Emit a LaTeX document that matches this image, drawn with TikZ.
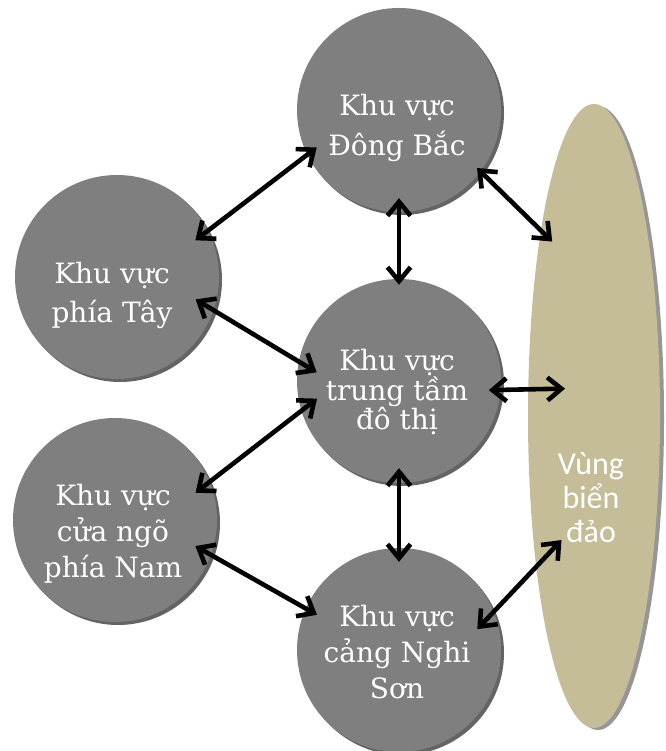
\documentclass[tikz,border=0pt]{standalone}
\usepackage{fontspec}
\setmainfont{DejaVu Serif}
\newfontfamily\seafont{Carlito}
\usetikzlibrary{arrows.meta,shapes.geometric,shadows}

\definecolor{zonegray}{RGB}{127,127,127}
\definecolor{zoneshade}{RGB}{100,100,100}
\definecolor{seatan}{RGB}{196,189,151}
\definecolor{seashade}{RGB}{150,150,150}

\tikzset{
  zone/.style={circle,fill=zonegray,minimum size=204pt,inner sep=0pt,
    drop shadow={shadow xshift=3pt,shadow yshift=-3pt,fill=zoneshade,opacity=1}},
  zonetext/.style={text=white,align=center,inner sep=0pt,
    font=\fontsize{28}{#1}\selectfont},
  zonetext/.default=36,
  sea/.style={ellipse,fill=seatan,minimum width=132pt,minimum height=624pt,inner sep=0pt,
    drop shadow={shadow xshift=4pt,shadow yshift=-2pt,fill=seashade,opacity=1}},
  seatext/.style={text=white,align=center,inner sep=0pt,
    font=\seafont\fontsize{32}{34}\selectfont},
  link/.style={<->,>={Straight Barb[length=14pt,width=23pt]},line width=4.6pt}
}

\begin{document}
\begin{tikzpicture}[x=1pt,y=1pt]
  \useasboundingbox (0,0) rectangle (665,751);

  % vung bien
  \node[sea] (sea) at (594,335) {};
  \node[seatext] (sea-txt) at (591,253) {Vùng\\biển\\đảo};

  % cac khu vuc
  \node[zone] (top)   at (399,641) {};
  \node[zone] (west)  at (117,474) {};
  \node[zone] (ctr)   at (399,370) {};
  \node[zone] (south) at (115,231) {};
  \node[zone] (port)  at (399,101) {};

  \node[zonetext=40] (top-txt)   at (397,623) {Khu vực\\Đông Bắc};
  \node[zonetext=39] (west-txt)  at (112,456) {Khu vực\\phía Tây};
  \node[zonetext=28] (ctr-txt)   at (397,359) {Khu vực\\trung tầm\\đô thị};
  \node[zonetext=36] (south-txt) at (113,217) {Khu vực\\cửa ngõ\\phía Nam};
  \node[zonetext=36] (port-txt)  at (397,99)  {Khu vực\\cảng Nghi\\Sơn};

  % mui ten hai chieu
  \draw[link,shorten <=-16pt,shorten >=-12pt] (west.27) -- (top.206);
  \draw[link,shorten <=-14pt,shorten >=-6pt] (top.-90) -- (ctr.90);
  \draw[link,shorten <=-5pt,shorten >=-16pt] (top.-37) -- (sea.106);
  \draw[link,shorten <=-21pt,shorten >=-21pt] (west.-19) -- (ctr.169);
  \draw[link,shorten <=-12pt,shorten >=-37pt] (ctr.-5) -- (sea.158);
  \draw[link,shorten <=-18pt,shorten >=-20pt] (south.22) -- (ctr.197);
  \draw[link,shorten <=-15pt,shorten >=-14pt] (ctr.-90) -- (port.90);
  \draw[link,shorten <=-18pt,shorten >=-13pt] (south.-20) -- (port.156);
  \draw[link,shorten <=-24pt,shorten >=-37pt] (port.22) -- (sea.249);
\end{tikzpicture}
\end{document}
